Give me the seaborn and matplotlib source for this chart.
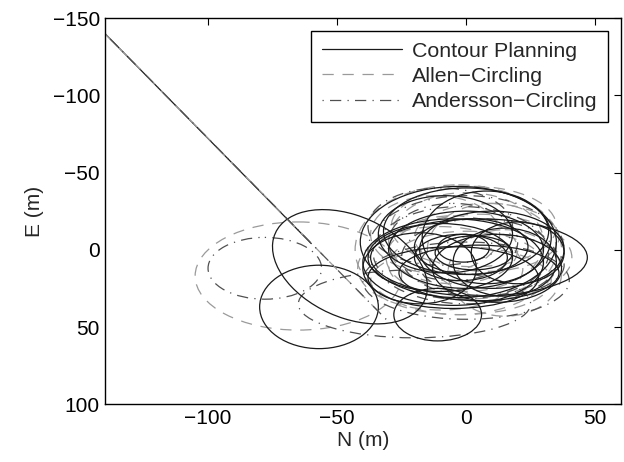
import numpy as np
import pandas as pd
import matplotlib
matplotlib.use("Agg")
import matplotlib.pyplot as plt
from matplotlib.patches import Ellipse
import seaborn as sns

# approach legs (N, E)
contour_approach_n = [-140, -60]
contour_approach_e = [-140, -4]
allen_approach_n = [-140, -31]
allen_approach_e = [-140, 45]
andersson_approach_n = [-140, -31]
andersson_approach_e = [-140, 45]

# loiter loops: centre N, centre E, width (N), height (E), tilt
contour_cn = [-45, -57, 5, -3, 0, -5, 2, -1, 3, -10, 10, -8, -11, 15, -18, 5,
              0, 8, -5, 12, -2, 20]
contour_ce = [11, 37, 5, -5, 0, 8, -2, -1, 2, 5, 0, -10, 42, 8, 12, 15,
              -12, -8, 18, 12, 5, 2]
contour_w = [79.7, 46, 84, 76, 60, 70, 44, 20, 30, 56, 56, 52, 34, 40, 44, 62,
             64, 50, 66, 50, 36, 36]
contour_h = [52.2, 54, 50, 72, 50, 56, 36, 18, 22, 44, 50, 50, 34, 44, 46, 36,
             56, 60, 40, 44, 30, 40]
contour_ang = [60.5, 0, 0, 0, 0, 0, 0, 0, 0, 0, 0, 0, 0, 0, 0, 0,
               0, 0, 0, 0, 0, 0]

allen_cn = [-65, -3, 0, 5, -5, 0, -10, 8, -2, 10, -12, 15, 3]
allen_ce = [17, 0, -5, 5, 0, 10, 12, -8, 20, 0, -10, 15, -15]
allen_w = [80, 80, 60, 72, 50, 60, 64, 56, 70, 50, 50, 44, 64]
allen_h = [70, 84, 64, 56, 44, 44, 54, 44, 44, 60, 50, 56, 52]

andersson_cn = [-78, -20, 0, 5, -5, 10, -2, 0, -10]
andersson_ce = [12, 35, 0, 5, -5, 10, 2, 20, -15]
andersson_w = [44, 90, 76, 60, 50, 56, 68, 80, 56]
andersson_h = [40, 44, 70, 50, 50, 40, 60, 50, 50]

x_ticks = [-100, -50, 0, 50]
y_ticks = [-150, -100, -50, 0, 50, 100]

sns.set_style("white")
plt.rcParams["font.family"] = ["Liberation Sans", "DejaVu Sans"]
plt.rcParams["axes.unicode_minus"] = True

fig = plt.figure(figsize=(6.24, 4.62), dpi=100)
ax = fig.add_axes([0.168, 0.125, 0.827, 0.836])

c_col = "#1a1a1a"
a_col = "#9a9a9a"
d_col = "#505050"
lw = 0.9
a_ls = (0, (9, 7))
d_ls = (0, (1, 5, 9, 5))

sns.lineplot(x=contour_approach_n, y=contour_approach_e, sort=False, estimator=None,
             color=c_col, lw=lw, ax=ax, label="Contour Planning")
sns.lineplot(x=allen_approach_n, y=allen_approach_e, sort=False, estimator=None,
             color=a_col, lw=lw, linestyle=a_ls, ax=ax, label="Allen\u2212Circling")
sns.lineplot(x=andersson_approach_n, y=andersson_approach_e, sort=False, estimator=None,
             color=d_col, lw=lw, linestyle=d_ls, ax=ax, label="Andersson\u2212Circling")

for cn, ce, w, h in zip(allen_cn, allen_ce, allen_w, allen_h):
    ax.add_patch(Ellipse((cn, ce), w, h, fill=False, ec=a_col, lw=lw, ls=a_ls))
for cn, ce, w, h in zip(andersson_cn, andersson_ce, andersson_w, andersson_h):
    ax.add_patch(Ellipse((cn, ce), w, h, fill=False, ec=d_col, lw=lw, ls=d_ls))
for cn, ce, w, h, a in zip(contour_cn, contour_ce, contour_w, contour_h, contour_ang):
    ax.add_patch(Ellipse((cn, ce), w, h, angle=a, fill=False, ec=c_col, lw=lw))

ax.set_xlim(-140, 60)
ax.set_ylim(100, -150)
ax.set_xticks(x_ticks)
ax.set_yticks(y_ticks)
ax.tick_params(direction="in", top=True, right=True, length=5, width=0.8,
               labelsize=15, colors="black")
for s in ax.spines.values():
    s.set_color("black")
    s.set_linewidth(1.0)
ax.set_xlabel("N (m)", fontsize=15, labelpad=2)
ax.set_ylabel("E (m)", fontsize=15, labelpad=6)

leg = ax.legend(loc="upper right", fontsize=15.4, frameon=True, fancybox=False,
                edgecolor="black", handlelength=3.75, labelspacing=0.3,
                borderaxespad=0.6, borderpad=0.5, handletextpad=0.45)
leg.get_frame().set_linewidth(1.0)
leg.get_frame().set_alpha(1)

fig.savefig("out.png", dpi=100)
